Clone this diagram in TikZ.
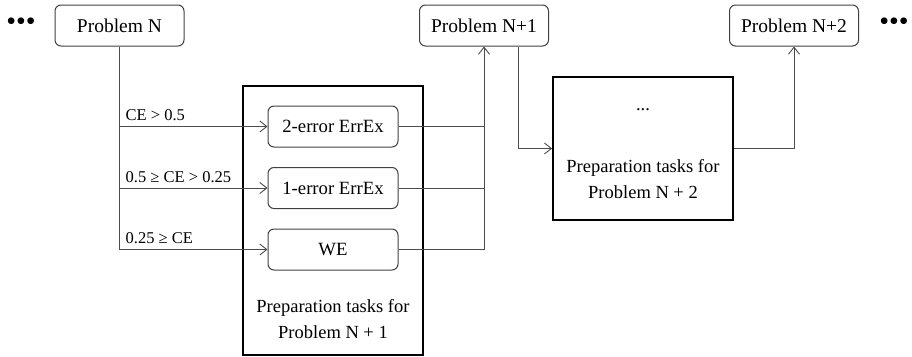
\documentclass[tikz,border=0pt]{standalone}
\usepackage{fontspec}
\setmainfont{Liberation Serif}
\usetikzlibrary{arrows.meta}
\begin{document}
\begin{tikzpicture}[x=1pt,y=-1pt,
  prob/.style={draw=black!75, rounded corners=6pt, line width=1pt,
    minimum width=129pt, minimum height=41pt, inner sep=0pt,
    font=\fontsize{19.5}{22}\selectfont},
  task/.style={prob, minimum width=130pt, font=\fontsize{18.7}{22}\selectfont},
  group/.style={draw=black, line width=1.8pt, inner sep=0pt},
  gtext/.style={align=center, font=\fontsize{18.5}{26}\selectfont},
  conn/.style={draw=black!70, line width=0.9pt},
  arr/.style={conn, -{Straight Barb[length=7pt,width=11pt]}},
  lab/.style={anchor=base west, inner sep=0pt, font=\fontsize{16.5}{20}\selectfont},
  more/.style={inner sep=0pt, font=\fontsize{28}{28}\selectfont}
]
\useasboundingbox (0,0) rectangle (912,356);

% problems in sequence
\node[prob] (PN)  at (119.5,25.5) {Problem N};
\node[prob] (PN1) at (484,25.5)   {Problem N+1};
\node[prob] (PN2) at (794,25.5)   {Problem N+2};
\node[more] (dl) at (21,24)  {•••};
\node[more] (dr) at (894,24) {•••};

% preparation tasks for problem N+1
\node[group, minimum width=180pt, minimum height=269pt] (G1) at (333,220.5) {};
\node[task] (E2) at (333,126.5) {2-error ErrEx};
\node[task] (E1) at (333,188)   {1-error ErrEx};
\node[task] (WE) at (333,249.5) {WE};
\node[gtext] (G1t) at (333,319) {Preparation tasks for\\Problem N + 1};

% preparation tasks for problem N+2
\node[group, minimum width=180pt, minimum height=143pt] (G2) at (643,148.5) {};
\node[gtext] (G2d) at (643,110) {...};
\node[gtext] (G2t) at (643,179.5) {Preparation tasks for\\Problem N + 2};

% branching on CE
\draw[conn] (PN.south) -- (PN.south |- WE.west);
\draw[arr] (PN.south |- E2.west) -- (E2.west);
\draw[arr] (PN.south |- E1.west) -- (E1.west);
\draw[arr] (PN.south |- WE.west) -- (WE.west);
\node[lab, xshift=6pt, yshift=6pt] (l1) at (PN.south |- E2.west) {CE > 0.5};
\node[lab, xshift=6pt, yshift=6pt] (l2) at (PN.south |- E1.west) {0.5 ≥ CE > 0.25};
\node[lab, xshift=6pt, yshift=6pt] (l3) at (PN.south |- WE.west) {0.25 ≥ CE};

% merging into problem N+1
\draw[conn] (E2.east) -- (E2.east -| PN1.south);
\draw[conn] (E1.east) -- (E1.east -| PN1.south);
\draw[arr] (WE.east) -| (PN1.south);

% on to problem N+2
\draw[arr] ([xshift=-31pt]PN1.south east) |- (G2.west);
\draw[arr] (G2.east) -| (PN2.south);
\end{tikzpicture}
\end{document}
